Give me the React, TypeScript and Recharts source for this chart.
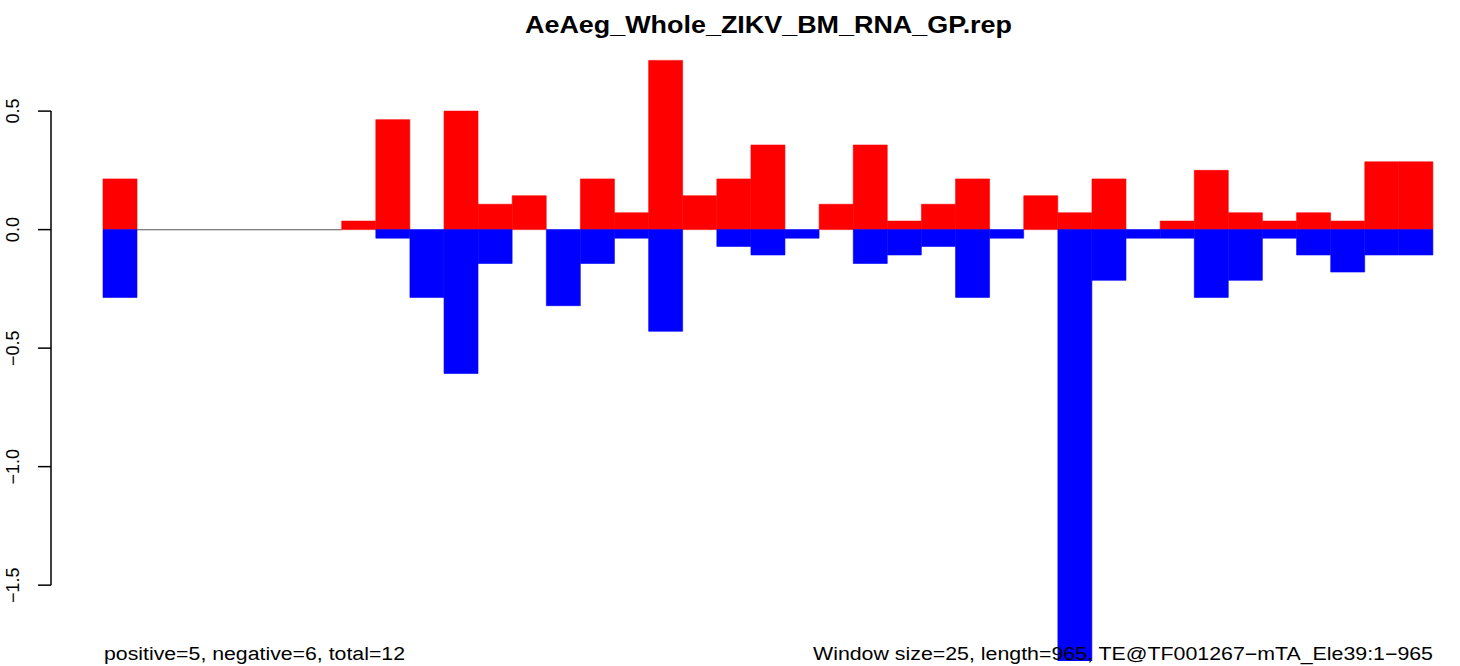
import {
  BarChart,
  Bar,
  XAxis,
  YAxis,
  ReferenceLine,
  ReferenceArea,
} from 'recharts';

// window index along the TE (window size 25, length 965)
const windows = [
  '1', '2', '3', '4', '5', '6', '7', '8', '9', '10',
  '11', '12', '13', '14', '15', '16', '17', '18', '19', '20',
  '21', '22', '23', '24', '25', '26', '27', '28', '29', '30',
  '31', '32', '33', '34', '35', '36', '37', '38', '39',
];

// positive strand coverage (red)
const positive = [
  0.214, 0, 0, 0, 0, 0, 0, 0.036, 0.464, 0,
  0.5, 0.107, 0.143, 0, 0.214, 0.071, 0.714, 0.143, 0.214, 0.357,
  0, 0.107, 0.357, 0.036, 0.107, 0.214, 0, 0.143, 0.071, 0.214,
  0, 0.036, 0.25, 0.071, 0.036, 0.071, 0.036, 0.286, 0.286,
];

// negative strand coverage (blue)
const negative = [
  -0.286, 0, 0, 0, 0, 0, 0, 0, -0.036, -0.286,
  -0.607, -0.143, 0, -0.321, -0.143, -0.036, -0.429, 0, -0.071, -0.107,
  -0.036, 0, -0.143, -0.107, -0.071, -0.286, -0.036, 0, -1.82, -0.214,
  -0.036, -0.036, -0.286, -0.214, -0.036, -0.107, -0.179, -0.107, -0.107,
];

const yTicks = [0.5, 0, -0.5, -1, -1.5];

const title = 'AeAeg_Whole_ZIKV_BM_RNA_GP.rep';
const leftNote = 'positive=5, negative=6, total=12';
const rightNote = 'Window size=25, length=965, TE@TF001267\u2212mTA_Ele39:1\u2212965';

const chartData = windows.map((w, i) => ({
  win: w,
  pos: positive[i],
  neg: negative[i],
}));

const FONT = '"Liberation Sans", Arial, Helvetica, sans-serif';

const fmt = (v: number) => v.toFixed(1).replace('-', '\u2212');

const YTick = (props: any) => {
  const { x, y, payload } = props;
  const tx = x - 17;
  return (
    <text
      x={tx}
      y={y}
      transform={`rotate(-90, ${tx}, ${y})`}
      textAnchor="middle"
      fontSize={18}
      fontFamily={FONT}
      fill="#000"
    >
      {fmt(payload.value)}
    </text>
  );
};

const App = () => {
  return (
    <div style={{ position: 'absolute', left: 0, top: 0, width: 1460, height: 666, background: '#fff' }}>
      <BarChart
        width={1460}
        height={666}
        data={chartData}
        margin={{ top: 40, right: 27, bottom: 5, left: 0 }}
        barCategoryGap={0}
        barGap={0}
        stackOffset="sign"
      >
        <XAxis dataKey="win" type="category" hide height={0} padding={{ left: 52, right: 0 }} />
        <XAxis xAxisId="frame" type="number" domain={[0, 1]} allowDataOverflow hide height={0} />
        <YAxis
          width={51}
          domain={[-1.82, 0.8]}
          ticks={yTicks}
          interval={0}
          allowDataOverflow
          axisLine={false}
          tickLine={{ stroke: '#000', strokeWidth: 1.5 }}
          tickSize={13}
          tick={<YTick />}
        />
        <ReferenceArea
          x1={windows[1]}
          x2={windows[6]}
          y1={0.002}
          y2={-0.003}
          fill="#555"
          fillOpacity={1}
          stroke="none"
          ifOverflow="visible"
        />
        <Bar
          dataKey="pos"
          stackId="s"
          fill="#FF0000"
          stroke="#FF0000"
          strokeWidth={0.6}
          isAnimationActive={false}
        />
        <Bar
          dataKey="neg"
          stackId="s"
          fill="#0000FF"
          stroke="#0000FF"
          strokeWidth={0.6}
          isAnimationActive={false}
        />
        <ReferenceLine
          xAxisId="frame"
          segment={[
            { x: 0, y: 0.5 },
            { x: 0, y: -1.5 },
          ]}
          stroke="#000"
          strokeWidth={1.5}
          ifOverflow="visible"
        />
      </BarChart>
      <svg
        width={1460}
        height={666}
        style={{ position: 'absolute', left: 0, top: 0, pointerEvents: 'none' }}
      >
        <text
          x={768.5}
          y={33}
          textAnchor="middle"
          fontSize={23}
          fontWeight="bold"
          fontFamily={FONT}
          textLength={487}
          lengthAdjust="spacingAndGlyphs"
        >
          {title}
        </text>
        <text
          x={104}
          y={660}
          fontSize={18}
          fontFamily={FONT}
          textLength={301}
          lengthAdjust="spacingAndGlyphs"
        >
          {leftNote}
        </text>
        <text
          x={1433}
          y={660}
          textAnchor="end"
          fontSize={18}
          fontFamily={FONT}
          textLength={620}
          lengthAdjust="spacingAndGlyphs"
        >
          {rightNote}
        </text>
      </svg>
    </div>
  );
};

export default App;
